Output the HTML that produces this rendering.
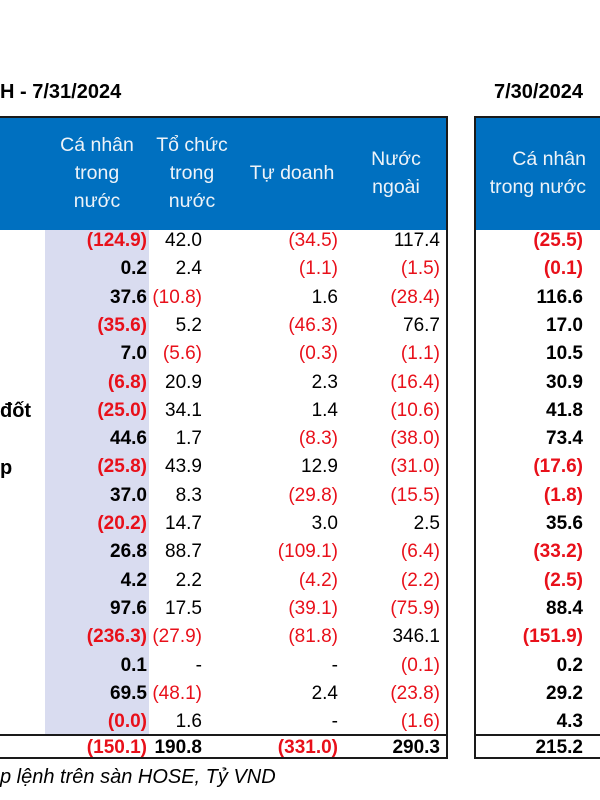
<!DOCTYPE html>
<html><head><meta charset="utf-8">
<style>
html,body{margin:0;padding:0;background:#fff;}
#root{position:relative;width:600px;height:800px;overflow:hidden;font-family:"Liberation Sans",Arial,sans-serif;color:#000;}
.abs{position:absolute;}
.t{font-weight:bold;font-size:20px;top:81px;}
.hdr{background:#0070C0;color:#eef3f8;font-size:19.5px;line-height:28px;text-align:center;}
.v{position:absolute;font-size:19px;text-align:right;white-space:nowrap;}
.neg{color:#e8101a;}
.b{font-weight:bold;}
</style></head>
<body>
<div id="root">
  <div class="abs t" style="left:0">H - 7/31/2024</div>
  <div class="abs t" style="left:494px">7/30/2024</div>

  <div class="abs" style="left:-2px;top:116px;width:450px;height:643px;border:2px solid #1a1a1a;box-sizing:border-box;"></div>
  <div class="abs" style="left:474px;top:116px;width:140px;height:643px;border:2px solid #1a1a1a;box-sizing:border-box;"></div>

  <div class="abs hdr" style="left:0;top:118px;width:446px;height:112px;"></div>
  <div class="abs hdr" style="left:476px;top:118px;width:130px;height:112px;"></div>
  <div class="abs" style="left:45px;top:230px;width:104px;height:505px;background:#d9dcf0;"></div>

  <div class="abs hdr" style="left:42px;top:131px;width:110px;background:none">Cá nhân<br>trong<br>nước</div>
  <div class="abs hdr" style="left:145px;top:131px;width:94px;background:none">Tổ chức<br>trong<br>nước</div>
  <div class="abs hdr" style="left:238px;top:159px;width:108px;background:none">Tự doanh</div>
  <div class="abs hdr" style="left:350px;top:145px;width:92px;background:none">Nước<br>ngoài</div>
  <div class="abs hdr" style="left:470px;top:145px;width:116px;background:none;text-align:right">Cá nhân<br>trong nước</div>

  <div class="abs" style="left:0;top:734px;width:448px;height:2px;background:#1a1a1a"></div>
  <div class="abs" style="left:476px;top:734px;width:130px;height:2px;background:#1a1a1a"></div>

  <div class="abs b" style="left:0;top:400px;font-size:20px">đốt</div>
  <div class="abs b" style="left:0;top:457px;font-size:20px">p</div>

  <div class="abs" style="left:0;top:766px;font-size:20px;font-style:italic">p lệnh trên sàn HOSE, Tỷ VND</div>
</div>
<script>
const caNhan = ["(124.9)","0.2","37.6","(35.6)","7.0","(6.8)","(25.0)","44.6","(25.8)","37.0","(20.2)","26.8","4.2","97.6","(236.3)","0.1","69.5","(0.0)"];
const toChuc = ["42.0","2.4","(10.8)","5.2","(5.6)","20.9","34.1","1.7","43.9","8.3","14.7","88.7","2.2","17.5","(27.9)","-","(48.1)","1.6"];
const tuDoanh = ["(34.5)","(1.1)","1.6","(46.3)","(0.3)","2.3","1.4","(8.3)","12.9","(29.8)","3.0","(109.1)","(4.2)","(39.1)","(81.8)","-","2.4","-"];
const nuocNgoai = ["117.4","(1.5)","(28.4)","76.7","(1.1)","(16.4)","(10.6)","(38.0)","(31.0)","(15.5)","2.5","(6.4)","(2.2)","(75.9)","346.1","(0.1)","(23.8)","(1.6)"];
const caNhanPrev = ["(25.5)","(0.1)","116.6","17.0","10.5","30.9","41.8","73.4","(17.6)","(1.8)","35.6","(33.2)","(2.5)","88.4","(151.9)","0.2","29.2","4.3"];
const totals = ["(150.1)","190.8","(331.0)","290.3","215.2"];

const root = document.getElementById('root');
const cols = [
  {data: caNhan, right: 147, bold: true, name: 'ca-nhan'},
  {data: toChuc, right: 202, bold: false, name: 'to-chuc'},
  {data: tuDoanh, right: 338, bold: false, name: 'tu-doanh'},
  {data: nuocNgoai, right: 440, bold: false, name: 'nuoc-ngoai'},
  {data: caNhanPrev, right: 583, bold: true, name: 'ca-nhan-prev'}
];
const rowTop = 230, rowH = 28.3;
function addCell(text, right, top, bold, name) {
  const d = document.createElement('div');
  d.className = 'v' + (bold ? ' b' : '') + (text.startsWith('(') ? ' neg' : '');
  d.style.right = (600 - right) + 'px';
  d.style.top = top + 'px';
  d.textContent = text;
  
  
  root.appendChild(d);
}
cols.forEach(c => {
  c.data.forEach((val, i) => addCell(val, c.right, rowTop + i * rowH, c.bold, 'cell-' + c.name));
});
totals.forEach((val, i) => addCell(val, cols[i].right, 737, true, 'total-' + cols[i].name));
</script>
</body></html>
